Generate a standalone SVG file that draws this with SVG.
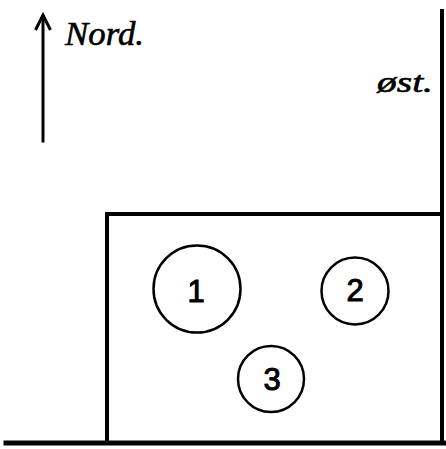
<svg xmlns="http://www.w3.org/2000/svg" width="446" height="449" viewBox="0 0 446 449">
<style>
.ln{fill:none;stroke:#000;stroke-linecap:square}
.c{fill:#fff;stroke:#000;stroke-width:2.5}
.num{font-family:"Liberation Sans",Arial,sans-serif;font-size:31px;fill:#000;stroke:#000;stroke-width:1;text-anchor:middle}
.lbl{font-family:"Liberation Serif","DejaVu Serif",serif;font-style:italic;fill:#000;stroke:#000;stroke-width:0.6}
</style>
<rect width="446" height="449" fill="#fff"/>
<g id="walls">
<path class="ln" d="M107,441 V214 H441" stroke-width="4"/>
<path class="ln" d="M442,11 V443" stroke-width="4"/>
<path class="ln" d="M6,443 H444" stroke-width="5"/>
</g>
<g id="connectors">
<path class="ln" d="M43,141 V17" stroke-width="3"/>
<path d="M35.5,30 L43,15 L50.5,30" fill="none" stroke="#000" stroke-width="3" stroke-linejoin="miter"/>
</g>
<text class="lbl" x="65" y="45" font-size="34" textLength="79" lengthAdjust="spacingAndGlyphs">Nord.</text>
<text class="lbl" x="377" y="92" font-size="30" textLength="56" lengthAdjust="spacingAndGlyphs" font-family="'Liberation Sans',sans-serif">øst.</text>
<g id="node1"><circle class="c" cx="197" cy="289" r="43.5"/><text class="num" x="196" y="302">1</text></g>
<g id="node2"><circle class="c" cx="355" cy="291" r="33.5"/><text class="num" x="355" y="301">2</text></g>
<g id="node3"><circle class="c" cx="271" cy="379" r="33"/><text class="num" x="272" y="390">3</text></g>
</svg>
